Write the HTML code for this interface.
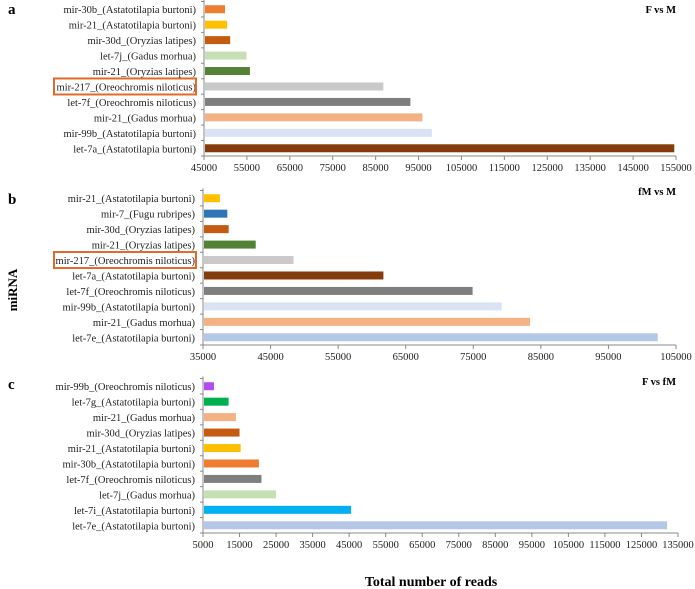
<!DOCTYPE html>
<html><head><meta charset="utf-8"><style>
html,body{margin:0;padding:0;background:#fff;}
svg{display:block;font-family:"Liberation Serif",serif;}
</style></head><body>
<svg id="chart" width="695" height="589" viewBox="0 0 695 589" xmlns="http://www.w3.org/2000/svg">
<text x="8" y="14" font-size="15" font-weight="bold">a</text>
<text x="8" y="204" font-size="15" font-weight="bold">b</text>
<text x="8" y="389" font-size="15" font-weight="bold">c</text>
<text transform="translate(17,290) rotate(-90)" text-anchor="middle" font-size="13" font-weight="bold">miRNA</text>
<text x="431" y="586" text-anchor="middle" font-size="14" font-weight="bold">Total number of reads</text>
</svg>
<script>
const aLabels=["mir-30b_(Astatotilapia burtoni)","mir-21_(Astatotilapia burtoni)","mir-30d_(Oryzias latipes)","let-7j_(Gadus morhua)","mir-21_(Oryzias latipes)","mir-217_(Oreochromis niloticus)","let-7f_(Oreochromis niloticus)","mir-21_(Gadus morhua)","mir-99b_(Astatotilapia burtoni)","let-7a_(Astatotilapia burtoni)"];
const aValues=[49900,50400,51100,54900,55700,86800,93100,95900,98100,154600];
const aColors=["#ed7d31","#ffc000","#c55a11","#c5e0b4","#538135","#c9c9c9","#7f7f7f","#f4b183","#dae3f3","#843c0c"];
const aTicks=[45000,55000,65000,75000,85000,95000,105000,115000,125000,135000,145000,155000];

const bLabels=["mir-21_(Astatotilapia burtoni)","mir-7_(Fugu rubripes)","mir-30d_(Oryzias latipes)","mir-21_(Oryzias latipes)","mir-217_(Oreochromis niloticus)","let-7a_(Astatotilapia burtoni)","let-7f_(Oreochromis niloticus)","mir-99b_(Astatotilapia burtoni)","mir-21_(Gadus morhua)","let-7e_(Astatotilapia burtoni)"];
const bValues=[37500,38600,38800,42800,48400,61700,74900,79200,83400,102300];
const bColors=["#ffc000","#2e75b6","#c55a11","#538135","#c9c9c9","#843c0c","#7f7f7f","#dae3f3","#f4b183","#b4c7e7"];
const bTicks=[35000,45000,55000,65000,75000,85000,95000,105000];

const cLabels=["mir-99b_(Oreochromis niloticus)","let-7g_(Astatotilapia burtoni)","mir-21_(Gadus morhua)","mir-30d_(Oryzias latipes)","mir-21_(Astatotilapia burtoni)","mir-30b_(Astatotilapia burtoni)","let-7f_(Oreochromis niloticus)","let-7j_(Gadus morhua)","let-7i_(Astatotilapia burtoni)","let-7e_(Astatotilapia burtoni)"];
const cValues=[8000,12000,14000,15000,15300,20300,21000,25000,45500,132000];
const cColors=["#b14cf0","#00b050","#f4b183","#c55a11","#ffc000","#ed7d31","#7f7f7f","#c5e0b4","#00b0f0","#b4c7e7"];
const cTicks=[5000,15000,25000,35000,45000,55000,65000,75000,85000,95000,105000,115000,125000,135000];

const NS="http://www.w3.org/2000/svg";
const svg=document.getElementById('chart');
function mk(tag,attrs,parent){const e=document.createElementNS(NS,tag);for(const k in attrs)e.setAttribute(k,attrs[k]);(parent||svg).appendChild(e);return e;}

function panel(id,title,labels,values,colors,ticks,top,bottom,x0,x1,boxIdx,titleY){
  const g=mk('g',{});
  
  
  const min=ticks[0],max=ticks[ticks.length-1];
  const xs=v=>x0+(v-min)/(max-min)*(x1-x0);
  const n=labels.length, step=(bottom-top)/n;
  const ys=i=>top+step*(i+0.5);
  const ya=mk('line',{x1:x0,y1:top-2,x2:x0,y2:bottom,stroke:'#888','stroke-width':1},g);
  
  
  const xa=mk('line',{x1:x0,y1:bottom,x2:x1,y2:bottom,stroke:'#888','stroke-width':1},g);
  
  
  for(let i=0;i<=n;i++){mk('line',{x1:x0-3,y1:top+step*i,x2:x0,y2:top+step*i,stroke:'#888'},g);}
  ticks.forEach(t=>{
    const x=xs(t);
    mk('line',{x1:x,y1:bottom,x2:x,y2:bottom+4,stroke:'#888'},g);
    const tx=mk('text',{x:x,y:bottom+15,'text-anchor':'middle','font-size':'10.5',fill:'#222'},g);
    tx.textContent=t;
    
    
  });
  labels.forEach((l,i)=>{
    const y=ys(i);
    const r=mk('rect',{x:x0+1,y:y-4,width:Math.max(0,xs(values[i])-x0-1),height:8,fill:colors[i]},g);
    
    
    const tx=mk('text',{x:x0-8,y:y+4,'text-anchor':'end','font-size':'10.5',fill:'#222'},g);
    tx.textContent=l;
    
    
    if(i===boxIdx){
      const b=mk('rect',{x:54,y:y-8,width:142,height:16,fill:'none',stroke:'#e06a2a','stroke-width':2},g);
      
      
    }
  });
  const tt=mk('text',{x:676,y:titleY,'text-anchor':'end','font-size':'10.5','font-weight':'bold'},g);
  tt.textContent=title;
  
  
}
panel('a','F vs M',aLabels,aValues,aColors,aTicks,1.5,156,204,676,5,13);
panel('b','fM vs M',bLabels,bValues,bColors,bTicks,190.5,345,203,676,4,195);
panel('c','F vs fM',cLabels,cValues,cColors,cTicks,378.5,533,203,678,-1,385);
</script>
</body></html>
